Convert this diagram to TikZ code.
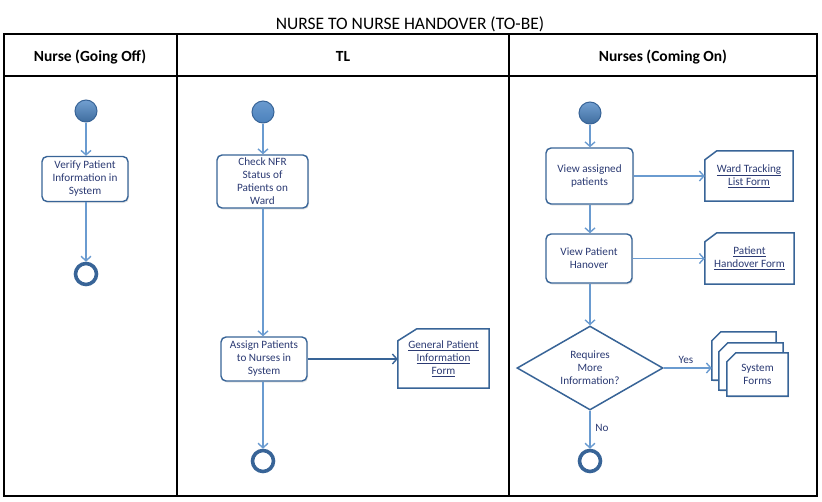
\documentclass[tikz,border=0pt]{standalone}
\usepackage{fontspec}
\setmainfont{Carlito}
\usetikzlibrary{arrows.meta,shapes.geometric,shadows,calc}
\definecolor{boxc}{HTML}{386497}
\definecolor{txt}{HTML}{2B3A73}
\definecolor{arrc}{HTML}{6A9BD0}
\definecolor{startc}{HTML}{4F88C6}
\begin{document}
\begin{tikzpicture}[x=1pt,y=-1pt,
  lane/.style={draw=black, line width=1.1pt},
  hdr/.style={font=\fontsize{15.5}{18}\selectfont\bfseries, anchor=base},
  act/.style={draw=boxc, line width=1.4pt, rounded corners=5pt, fill=white, align=center, text=txt,
     font=\fontsize{11.2}{13}\selectfont, inner sep=1pt,
     drop shadow={opacity=0.2, shadow xshift=1pt, shadow yshift=-1.5pt}},
  formtxt/.style={align=center, text=txt, font=\fontsize{11.2}{13}\selectfont, inner sep=0pt},
  formline/.style={draw=boxc, line width=1.5pt, fill=white},
  startn/.style={circle, draw=boxc, line width=1pt, minimum size=22pt, inner sep=0pt,
     top color=startc!80!white, bottom color=startc!80!black},
  endn/.style={circle, draw=boxc, line width=3.6pt, minimum size=21pt, inner sep=0pt, fill=white},
  flow/.style={draw=arrc, line width=1.4pt, -{Straight Barb[length=4.5pt,width=10pt,line width=1.4pt]}},
  flowdark/.style={draw=boxc, line width=1.4pt, -{Straight Barb[length=4.5pt,width=10pt,line width=1.4pt]}},
  lbl/.style={text=txt, font=\fontsize{11.2}{13}\selectfont, inner sep=0pt}
]
\useasboundingbox (0,0) rectangle (822,501);
% title and table
\node[font=\fontsize{17.5}{20}\selectfont, anchor=base] (title) at (410,29) {NURSE TO NURSE HANDOVER (TO-BE)};
\draw[lane] (4,34) rectangle (817,496);
\draw[lane] (4,76) -- (817,76);
\draw[lane] (177,34) -- (177,496);
\draw[lane] (509,34) -- (509,496);
\node[hdr] (h1) at (90,61) {Nurse (Going Off)};
\node[hdr] (h2) at (343,61) {TL};
\node[hdr] (h3) at (663,61) {Nurses (Coming On)};

% Lane 1
\node[startn] (s1) at (86,111) {};
\node[act, minimum width=86pt, minimum height=45pt] (verify) at (85,179) {Verify Patient\\Information in\\System};
\node[endn] (e1) at (86,274) {};
\draw[flow] (s1) -- (s1 |- verify.north);
\draw[flow] (verify.south -| s1) -- (e1);

% Lane 2
\node[startn, top color=startc!85!white, bottom color=startc!95!black] (s2) at (263,112) {};
\node[act, minimum width=91pt, minimum height=53pt] (check) at (262.5,181.5) {Check NFR\\Status of\\Patients on\\Ward};
\node[act, minimum width=86pt, minimum height=44pt] (assign) at (264,359) {Assign Patients\\to Nurses in\\System};
\node[endn] (e2) at (263,461) {};
\draw[flow] (s2) -- (s2 |- check.north);
\draw[flow] (check.south -| s2) -- (s2 |- assign.north);
\draw[flow] (assign.south -| s2) -- (e2);
\node[formtxt, minimum width=91pt, minimum height=59pt] (gpf) at (443.5,358.5) {};
\draw[formline] (gpf.south west) -- ($(gpf.north west)+(0,12)$) -- ($(gpf.north west)+(19,0)$) -- (gpf.north east) -- (gpf.south east) -- cycle;
\node[formtxt] at (gpf.center) {\underline{General Patient}\\\underline{Information}\\\underline{Form}};
\draw[flowdark] (assign.east) -- (gpf.west |- assign.east);

% Lane 3
\node[startn] (s3) at (590,113) {};
\node[act, minimum width=87pt, minimum height=56pt] (view) at (589.5,176) {View assigned\\patients};
\node[act, minimum width=86pt, minimum height=49pt] (hand) at (589,258.5) {View Patient\\Hanover};
\node[diamond, draw=boxc, line width=1.5pt, fill=white, aspect=1.74, minimum width=146pt, minimum height=84pt,
      inner sep=0pt, align=center, text=txt, font=\fontsize{11.2}{13}\selectfont] (dia) at (590,368) {Requires\\More\\Information?};
\node[endn] (e3) at (590,461) {};
\draw[flow] (s3) -- (s3 |- view.north);
\draw[flow] (view.south -| s3) -- (s3 |- hand.north);
\draw[flow] (hand.south -| s3) -- (dia.north);
\draw[flow] (dia.south) -- (e3);
\node[lbl] (no) at (602,428) {No};

\node[formtxt, minimum width=88pt, minimum height=50pt] (wtf) at (749,176) {};
\draw[formline] (wtf.south west) -- ($(wtf.north west)+(0,9)$) -- ($(wtf.north west)+(12,0)$) -- (wtf.north east) -- (wtf.south east) -- cycle;
\node[formtxt] at (wtf.center) {\underline{Ward Tracking}\\\underline{List Form}};
\node[formtxt, minimum width=89pt, minimum height=51pt] (phf) at (749.5,258.5) {};
\draw[formline] (phf.south west) -- ($(phf.north west)+(0,9)$) -- ($(phf.north west)+(12,0)$) -- (phf.north east) -- (phf.south east) -- cycle;
\node[formtxt] at (phf.center) {\underline{Patient}\\\underline{Handover Form}};
\draw[flow] (view.east) -- (wtf.west |- view.east);
\draw[flow] (hand.east) -- (phf.west |- hand.east);

% System forms stack
\node[formtxt, minimum width=64pt, minimum height=48pt] (sf1) at (744,356) {};
\node[formtxt, minimum width=64pt, minimum height=47pt] (sf2) at (751,366.5) {};
\node[formtxt, minimum width=61pt, minimum height=43pt] (sf3) at (757.5,374.5) {};
\foreach \n in {sf1,sf2,sf3}{
  \draw[formline, drop shadow={opacity=0.2, shadow xshift=1pt, shadow yshift=-1.5pt}] (\n.south west) -- ($(\n.north west)+(0,9)$) -- ($(\n.north west)+(9,0)$) -- (\n.north east) -- (\n.south east) -- cycle;
}
\node[formtxt] at (sf3.center) {System\\Forms};
\draw[flow] (dia.east) -- (sf1.west |- dia.east);
\node[lbl] (yes) at (686,360) {Yes};
\end{tikzpicture}
\end{document}
